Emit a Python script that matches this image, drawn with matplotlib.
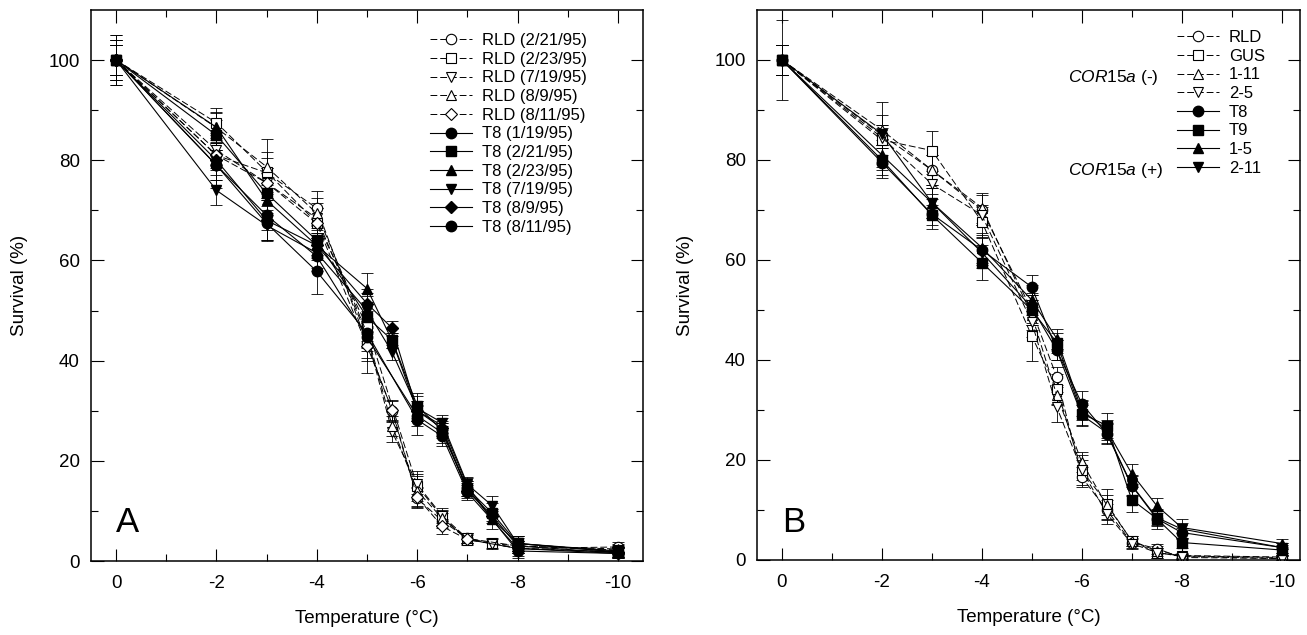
import matplotlib
matplotlib.use("Agg")
import matplotlib.pyplot as plt

plt.rcParams['font.family'] = ['Liberation Sans', 'DejaVu Sans']
plt.rcParams['mathtext.fontset'] = 'custom'
plt.rcParams['mathtext.it'] = 'Liberation Sans:italic'
plt.rcParams['mathtext.rm'] = 'Liberation Sans'

temps = [0, -2, -3, -4, -5, -5.5, -6, -6.5, -7, -7.5, -8, -10]

# ---------------- Panel A ----------------
labels_A = ["RLD (2/21/95)", "RLD (2/23/95)", "RLD (7/19/95)", "RLD (8/9/95)", "RLD (8/11/95)",
            "T8 (1/19/95)", "T8 (2/21/95)", "T8 (2/23/95)", "T8 (7/19/95)", "T8 (8/9/95)", "T8 (8/11/95)"]
markers_A = ['o', 's', 'v', '^', 'D', 'o', 's', '^', 'v', 'D', 'o']
filled_A = [False, False, False, False, False, True, True, True, True, True, True]

rld_0221 = [100, 81.0, 77.5, 70.4, 43.5, 30.0, 12.5, 8.0, 4.5, None, 2.5, 2.8]
rld_0223 = [100, 87.5, 77.7, 67.5, 46.9, None, 15.0, 8.7, 4.2, 3.5, 3.0, 2.2]
rld_0719 = [100, 82.0, 75.5, 68.4, 45.0, 25.8, 15.3, 9.0, 4.5, 3.4, 2.5, 1.8]
rld_0809 = [100, 86.5, 78.7, 69.4, 45.5, 27.0, 14.0, 8.5, 4.5, None, 3.0, 2.4]
rld_0811 = [100, 81.0, 75.5, 67.4, 43.0, 30.2, 12.7, 6.9, 4.3, None, 2.5, 1.8]
t8_0119 = [100, 79.0, 69.0, 60.8, 44.7, None, 29.0, 25.6, 14.5, None, 2.0, 1.5]
t8_0221 = [100, 85.0, 73.4, 64.0, 48.7, 44.1, 31.0, 26.0, 14.5, 9.5, 3.5, 1.8]
t8_0223 = [100, 86.6, 72.0, 63.0, 54.4, 44.0, 30.0, 27.0, 15.0, 8.3, 3.5, 1.8]
t8_0719 = [100, 74.0, 67.0, 61.5, 50.0, 41.7, 30.5, 27.6, 15.3, 11.0, 3.5, 2.0]
t8_0809 = [100, 80.0, 68.0, 63.0, 51.4, 46.5, 30.0, 26.5, 14.0, 9.0, 3.0, 1.6]
t8_0811 = [100, 79.0, 67.4, 57.8, 45.5, None, 28.2, 24.9, 13.7, None, 2.5, 1.5]
values_A = [rld_0221, rld_0223, rld_0719, rld_0809, rld_0811,
            t8_0119, t8_0221, t8_0223, t8_0719, t8_0809, t8_0811]

err_rld_0221 = [4, 2.5, 3, 3.5, 3, 2, 2, 1.5, 1, 0, 1, 1]
err_rld_0223 = [5, 3, 4, 3, 3, 0, 3, 1.5, 1, 1, 1, 1]
err_rld_0719 = [3, 3, 3, 3, 3, 2, 2, 1.5, 1, 1, 1, 1]
err_rld_0809 = [4, 3, 5.5, 3, 3, 2, 3, 1.5, 1, 0, 1, 1]
err_rld_0811 = [3, 3, 3, 3, 3, 2, 2, 1.5, 1, 0, 1, 1]
err_t8_0119 = [4, 3, 3, 3, 2, 0, 2, 2, 1.5, 0, 1.5, 1]
err_t8_0221 = [5, 3, 4, 3, 3, 1.5, 2.5, 1.5, 1.5, 2, 1.5, 1]
err_t8_0223 = [3, 3, 3, 3, 3, 1.5, 2, 1.5, 1.5, 2, 1.5, 1]
err_t8_0719 = [3, 3, 3, 3, 3, 1.5, 2.5, 1.5, 1.5, 2, 1.5, 1]
err_t8_0809 = [4, 5.5, 4, 2.5, 3, 1.5, 2, 1.5, 1.5, 1, 1.5, 1]
err_t8_0811 = [3, 3, 3.5, 4.5, 8, 0, 3, 2, 1.5, 0, 1.5, 1]
errors_A = [err_rld_0221, err_rld_0223, err_rld_0719, err_rld_0809, err_rld_0811,
            err_t8_0119, err_t8_0221, err_t8_0223, err_t8_0719, err_t8_0809, err_t8_0811]

# ---------------- Panel B ----------------
labels_B = ["RLD", "GUS", "1-11", "2-5", "T8", "T9", "1-5", "2-11"]
markers_B = ['o', 's', '^', 'v', 'o', 's', '^', 'v']
filled_B = [False, False, False, False, True, True, True, True]

b_rld = [100, 85.0, 78.0, 70.0, 50.0, 36.6, 16.6, 10.0, 3.5, 2.3, 0.5, 0.3]
b_gus = [100, 84.0, 81.9, 67.7, 44.8, 34.3, 18.0, 11.3, 3.8, 1.5, 0.8, 0.5]
b_1_11 = [100, 86.0, 78.0, 70.5, 49.0, 33.0, 19.6, 11.0, 3.9, 1.8, 0.9, 0.6]
b_2_5 = [100, 84.5, 75.2, 69.0, 47.6, 30.6, 18.0, 9.3, 3.3, 1.5, 0.7, 0.3]
b_t8 = [100, 79.5, 69.2, 62.0, 54.6, 42.0, 31.3, 25.3, 14.9, 8.3, 5.5, 2.5]
b_t9 = [100, 80.0, 69.0, 59.5, 50.0, 43.5, 29.3, 26.9, 12.1, 8.3, 3.5, 2.0]
b_1_5 = [100, 81.0, 71.5, 62.5, 52.0, 44.3, 30.0, 26.0, 17.3, 10.9, 6.5, 3.3]
b_2_11 = [100, 85.2, 71.5, 61.5, 50.5, 42.0, 29.0, 25.5, 15.0, 8.5, 6.2, 2.5]
values_B = [b_rld, b_gus, b_1_11, b_2_5, b_t8, b_t9, b_1_5, b_2_11]

err_b_rld = [3, 2, 3, 3, 3, 2, 2, 2, 1, 1, 0.5, 0.5]
err_b_gus = [8, 3, 4, 3, 5, 3, 3, 3, 1, 1, 0.5, 0.5]
err_b_1_11 = [3, 3, 3, 3, 3, 2, 2, 2, 1, 1, 0.5, 0.5]
err_b_2_5 = [3, 2, 2, 2, 3, 3, 2, 2, 1, 1, 0.5, 0.5]
err_b_t8 = [3, 3, 3, 3, 2.5, 2, 2.5, 2, 2, 2, 1, 1]
err_b_t9 = [3, 3, 2, 3.5, 3, 2, 2.5, 2.5, 2.5, 1.5, 1, 1]
err_b_1_5 = [3, 3, 3, 3, 3, 2, 2, 2, 2, 1.5, 1, 1]
err_b_2_11 = [3, 6.5, 3, 3, 3, 2, 2, 2, 2, 1.5, 2, 1]
errors_B = [err_b_rld, err_b_gus, err_b_1_11, err_b_2_5, err_b_t8, err_b_t9, err_b_1_5, err_b_2_11]

W, H = 1307, 635
fig = plt.figure(figsize=(W / 100, H / 100), dpi=100)
axA = fig.add_axes([91 / W, 1 - 561 / H, (643 - 91) / W, (561 - 10) / H])
axB = fig.add_axes([757 / W, 1 - 560 / H, (1300 - 757) / W, (560 - 10) / H])


def draw(ax, labels, values, errors, markers, filled):
    for lab, vals, errs, mk, fl in zip(labels, values, errors, markers, filled):
        xs = [t for t, v in zip(temps, vals) if v is not None]
        ys = [v for v in vals if v is not None]
        es = [e for v, e in zip(vals, errs) if v is not None]
        ax.errorbar(xs, ys, yerr=es, fmt='none', ecolor='black', elinewidth=0.6,
                    capsize=4, capthick=0.6, zorder=1)
        ms = 6.5 if mk == 'D' else 7.5
        if mk == 's':
            ms = 6.8
        if fl:
            ax.plot(xs, ys, ls='-', color='black', lw=0.8, marker=mk, ms=ms,
                    mfc='black', mec='black', label=lab, zorder=3)
        else:
            ax.plot(xs, ys, ls=(0, (7, 3)), color='black', lw=0.7, marker=mk, ms=ms,
                    mfc='white', mec='black', mew=0.8, label=lab, zorder=2)


def style(ax, xlim):
    ax.set_xlim(*xlim)
    ax.set_ylim(0, 110)
    ax.set_xticks([0, -2, -4, -6, -8, -10])
    ax.set_xticklabels(['0', '-2', '-4', '-6', '-8', '-10'])
    ax.set_xticks([-1, -3, -5, -7, -9], minor=True)
    ax.set_yticks([0, 20, 40, 60, 80, 100])
    ax.set_yticks([10, 30, 50, 70, 90], minor=True)
    ax.tick_params(which='both', direction='in', top=True, right=True, width=0.8, labelsize=13.5)
    ax.tick_params(which='major', length=9)
    ax.tick_params(which='minor', length=5)
    ax.tick_params(axis='y', pad=8)
    ax.tick_params(axis='x', pad=10)
    for s in ax.spines.values():
        s.set_linewidth(1.1)
    ax.set_xlabel('Temperature (°C)', fontsize=13.5, labelpad=13)
    ax.set_ylabel('Survival (%)', fontsize=13.5, labelpad=15)


draw(axA, labels_A, values_A, errors_A, markers_A, filled_A)
draw(axB, labels_B, values_B, errors_B, markers_B, filled_B)
style(axA, (0.5, -10.5))
style(axB, (0.5, -10.37))

legkw = dict(frameon=False, numpoints=1, handlelength=2.5, handletextpad=0.6,
             labelspacing=0.22, borderpad=0, borderaxespad=0, fontsize=12, loc='upper left')
axA.legend(bbox_to_anchor=(0.614, 0.958), **legkw)
axB.legend(bbox_to_anchor=(0.7735, 0.9636), **legkw)

axA.text(0.0, 7.6, 'A', fontsize=25, ha='left', va='center')
axB.text(0.0, 7.6, 'B', fontsize=25, ha='left', va='center')

axB.text(0.573, 0.878, r'$\mathit{COR15a}$ (-)', transform=axB.transAxes, fontsize=12.5,
         ha='left', va='center')
axB.text(0.573, 0.709, r'$\mathit{COR15a}$ (+)', transform=axB.transAxes, fontsize=12.5,
         ha='left', va='center')

fig.savefig('out.png', dpi=100)
